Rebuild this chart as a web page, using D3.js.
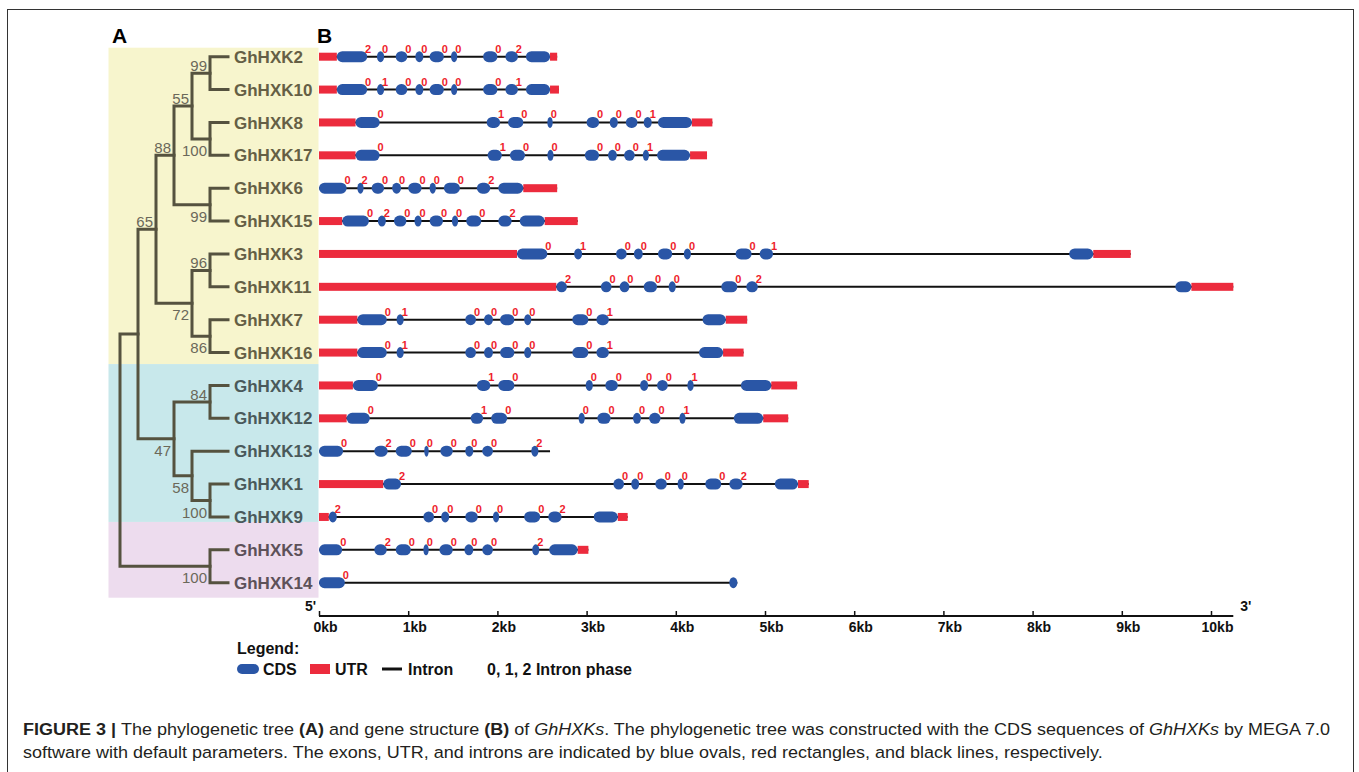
<!DOCTYPE html>
<html>
<head>
<meta charset="UTF-8">
<title>GhHXK tree and gene structure</title>
<style>
  body { margin: 0; background: white; }
  svg { display: block; background: white; font-family: "Liberation Sans", Arial, sans-serif; }
  .leaf { font-size: 17px; font-weight: bold; }
  .boot { font-size: 15px; fill: #6b685a; }
  .phase { font-size: 11px; font-weight: bold; fill: #ee1d2b; }
  .axis text { font-size: 14px; font-weight: bold; }
  .legend text { font-size: 16px; font-weight: bold; }
  .caption { font-size: 17px; fill: #231f20; }
</style>
<script src="https://cdnjs.cloudflare.com/ajax/libs/d3/7.8.5/d3.min.js"></script>
</head>
<body>
<div id="fig"></div>
<script>
// ---- data ----
const treeNewick = "((((((GhHXK2,GhHXK10)99,(GhHXK8,GhHXK17)100)55,(GhHXK6,GhHXK15)99)88,((GhHXK3,GhHXK11)96,(GhHXK7,GhHXK16)86)72)65,((GhHXK4,GhHXK12)84,(GhHXK13,(GhHXK1,GhHXK9)100)58)47),(GhHXK5,GhHXK14)100)";

const genes = ["GhHXK2","GhHXK10","GhHXK8","GhHXK17","GhHXK6","GhHXK15","GhHXK3","GhHXK11",
  "GhHXK7","GhHXK16","GhHXK4","GhHXK12","GhHXK13","GhHXK1","GhHXK9","GhHXK5","GhHXK14"];

const cladeSizes = [10, 5, 2];   // yellow, cyan, pink groups (gene order)

// gene length in kb
const geneLen = [2.67, 2.69, 4.41, 4.35, 2.67, 2.90, 9.10, 10.25, 4.80, 4.76, 5.36, 5.26, 2.59, 5.49, 3.46, 3.02, 4.69];

// UTR segments (kb)
const utrs = [
  [[0,0.20],[2.59,2.67]],
  [[0,0.20],[2.59,2.69]],
  [[0,0.41],[4.18,4.41]],
  [[0,0.41],[4.16,4.35]],
  [[2.29,2.67]],
  [[0,0.26],[2.53,2.90]],
  [[0,2.22],[8.68,9.10]],
  [[0,2.66],[9.78,10.25]],
  [[0,0.43],[4.56,4.80]],
  [[0,0.43],[4.53,4.76]],
  [[0,0.38],[5.07,5.36]],
  [[0,0.31],[4.98,5.26]],
  [],
  [[0,0.72],[5.37,5.49]],
  [[0,0.11],[3.35,3.46]],
  [[2.90,3.02]],
  []
];

// CDS exons (kb)
const exons = [
  [[0.20,0.54],[0.65,0.73],[0.86,0.99],[1.08,1.17],[1.24,1.40],[1.48,1.55],[1.84,2.00],[2.09,2.23],[2.32,2.59]],
  [[0.20,0.54],[0.65,0.73],[0.86,0.99],[1.08,1.17],[1.24,1.40],[1.48,1.55],[1.84,2.00],[2.09,2.23],[2.32,2.59]],
  [[0.41,0.68],[1.88,2.03],[2.12,2.29],[2.56,2.62],[3.00,3.14],[3.26,3.35],[3.44,3.57],[3.64,3.73],[3.80,4.18]],
  [[0.41,0.68],[1.89,2.05],[2.14,2.31],[2.56,2.63],[2.98,3.14],[3.24,3.34],[3.42,3.54],[3.63,3.70],[3.79,4.16]],
  [[0,0.31],[0.43,0.50],[0.59,0.73],[0.82,0.92],[1.00,1.15],[1.24,1.31],[1.40,1.58],[1.77,1.92],[2.01,2.29]],
  [[0.26,0.56],[0.66,0.75],[0.84,0.98],[1.07,1.15],[1.24,1.39],[1.49,1.56],[1.65,1.82],[2.01,2.16],[2.25,2.53]],
  [[2.22,2.56],[2.86,2.95],[3.33,3.45],[3.53,3.63],[3.80,3.96],[4.09,4.17],[4.67,4.85],[4.94,5.09],[8.41,8.68]],
  [[2.66,2.78],[3.16,3.28],[3.37,3.48],[3.64,3.79],[3.92,4.00],[4.51,4.69],[4.79,4.92],[9.60,9.78]],
  [[0.43,0.76],[0.87,0.95],[1.64,1.76],[1.85,1.95],[2.03,2.19],[2.30,2.38],[2.84,3.02],[3.11,3.25],[4.30,4.56]],
  [[0.43,0.76],[0.87,0.95],[1.64,1.76],[1.85,1.95],[2.03,2.19],[2.30,2.38],[2.84,3.02],[3.11,3.25],[4.26,4.53]],
  [[0.38,0.66],[1.77,1.92],[2.01,2.19],[2.99,3.07],[3.21,3.35],[3.60,3.69],[3.79,3.91],[4.13,4.20],[4.73,5.07]],
  [[0.31,0.57],[1.70,1.84],[1.93,2.11],[2.91,2.98],[3.12,3.27],[3.52,3.61],[3.70,3.83],[4.04,4.11],[4.65,4.98]],
  [[0,0.27],[0.62,0.77],[0.86,1.04],[1.18,1.23],[1.36,1.50],[1.64,1.73],[1.83,1.95],[2.38,2.46]],
  [[0.72,0.92],[3.30,3.42],[3.50,3.59],[3.77,3.90],[4.02,4.09],[4.33,4.51],[4.60,4.75],[5.11,5.37]],
  [[0.11,0.20],[1.17,1.29],[1.37,1.46],[1.64,1.78],[1.95,2.02],[2.30,2.48],[2.57,2.72],[3.08,3.35]],
  [[0,0.26],[0.62,0.76],[0.86,1.03],[1.17,1.23],[1.35,1.50],[1.63,1.73],[1.83,1.95],[2.39,2.47],[2.58,2.90]],
  [[0,0.29],[4.60,4.69]]
];

// intron phase written after each exon (same order as exons)
const phases = [
  [2,0,0,0,0,0,0,2],
  [0,1,0,0,0,0,0,1],
  [0,1,0,0,0,0,0,1],
  [0,1,0,0,0,0,0,1],
  [0,2,0,0,0,0,0,2],
  [0,2,0,0,0,0,0,2],
  [0,1,0,0,0,0,0,1],
  [2,0,0,0,0,0,2],
  [0,1,0,0,0,0,0,1],
  [0,1,0,0,0,0,0,1],
  [0,1,0,0,0,0,0,1],
  [0,1,0,0,0,0,0,1],
  [0,2,0,0,0,0,0,2],
  [2,0,0,0,0,0,2],
  [2,0,0,0,0,0,2],
  [0,2,0,0,0,0,0,2],
  [0]
];

const axisTicks = [0,1,2,3,4,5,6,7,8,9,10];

// ---- styles ----
const cladeFill = ["#f7f5cd", "#c8e8eb", "#eddcee"];
const cladeText = ["#655f45", "#4a595a", "#5d5159"];
const treeLine = "#55523f";
const exonCol = "#2a56a6";
const utrCol = "#ec2b3d";

// ---- setup ----
const W = 1359, H = 772;
const svg = d3.select("#fig").append("svg").attr("width", W).attr("height", H);

// figure frame
svg.append("rect").attr("x", 7.5).attr("y", 9.5).attr("width", 1346).attr("height", 800)
  .attr("fill", "none").attr("stroke", "#333").attr("stroke-width", 1);

const y = d3.scalePoint().domain(genes).range([56.7, 582.7]);
const x = d3.scaleLinear().domain([0, 10]).range([319, 1211]);

// ---- panel A: clade backgrounds ----
let start = 0;
const edges = [y(genes[0]) - 9];
cladeSizes.forEach((n, i) => {
  const last = genes[start + n - 1];
  edges.push(i === 0 ? y(last) + 11.5 : i === 1 ? y(last) + 5 : y(last) + 15);
  start += n;
});
svg.append("g").selectAll("rect").data(cladeSizes).join("rect")
  .attr("x", 108.5).attr("width", 210)
  .attr("y", (d, i) => edges[i]).attr("height", (d, i) => edges[i + 1] - edges[i])
  .attr("fill", (d, i) => cladeFill[i]);

// parse newick
function parseNewick(s) {
  let i = 0;
  function node() {
    const n = {};
    if (s[i] === "(") {
      i++;
      n.children = [node()];
      while (s[i] === ",") { i++; n.children.push(node()); }
      i++;
    }
    let lab = "";
    while (i < s.length && !",();".includes(s[i])) lab += s[i++];
    if (n.children) n.support = lab; else n.name = lab;
    return n;
  }
  return node();
}

const root = d3.hierarchy(parseNewick(treeNewick));
const tx = d3.scaleLinear().domain([0, root.height]).range([228, 120]);
root.eachAfter(d => {
  d.px = tx(d.height);
  d.py = d.children ? (d.children[0].py + d.children[d.children.length - 1].py) / 2 : y(d.data.name);
});

const cladeOf = name => {
  const idx = genes.indexOf(name);
  return idx < cladeSizes[0] ? 0 : idx < cladeSizes[0] + cladeSizes[1] ? 1 : 2;
};

const tree = svg.append("g");
tree.selectAll("path.branch")
  .data(root.descendants().filter(d => d.children))
  .join("path")
  .attr("class", "branch")
  .attr("fill", "none").attr("stroke", treeLine).attr("stroke-width", 3)
  .attr("stroke-linecap", "square").attr("stroke-linejoin", "miter")
  .attr("d", d => {
    const a = d.children[0], b = d.children[d.children.length - 1];
    return `M${a.px},${a.py}H${d.px}V${b.py}H${b.px}`;
  });

tree.selectAll("text.leaf")
  .data(root.leaves())
  .join("text")
  .attr("class", "leaf")
  .attr("x", 234).attr("y", d => d.py).attr("dy", "0.36em")
  .attr("fill", d => cladeText[cladeOf(d.data.name)])
  .text(d => d.data.name);

tree.selectAll("text.boot")
  .data(root.descendants().filter(d => d.parent && d.data.support))
  .join("text")
  .attr("class", "boot")
  .attr("text-anchor", "end")
  .attr("x", d => d.px - 3)
  .attr("y", d => d.parent.children[0] === d ? d.py - 2 : d.py + 17)
  .text(d => d.data.support);

// ---- panel B: gene structures ----
const rows = svg.append("g").selectAll("g.gene")
  .data(genes.map((g, i) => ({ g, i })))
  .join("g")
  .attr("transform", d => `translate(0,${y(d.g)})`);

rows.append("line")
  .attr("x1", x(0)).attr("x2", d => x(geneLen[d.i]))
  .attr("stroke", "#111").attr("stroke-width", 2);

rows.selectAll("rect.utr")
  .data(d => utrs[d.i])
  .join("rect")
  .attr("class", "utr")
  .attr("x", d => x(d[0])).attr("width", d => x(d[1]) - x(d[0]))
  .attr("y", -4).attr("height", 8)
  .attr("fill", utrCol);

rows.selectAll("rect.exon")
  .data(d => exons[d.i])
  .join("rect")
  .attr("class", "exon")
  .attr("x", d => x(d[0])).attr("width", d => x(d[1]) - x(d[0]))
  .attr("y", -5.5).attr("height", 11)
  .attr("rx", d => Math.min(5.5, (x(d[1]) - x(d[0])) / 2)).attr("ry", 5.5)
  .attr("fill", exonCol);

rows.selectAll("text.phase")
  .data(d => phases[d.i].map((p, k) => ({ p, end: exons[d.i][k][1] })))
  .join("text")
  .attr("class", "phase")
  .attr("text-anchor", "middle")
  .attr("x", d => x(d.end) + 1).attr("y", -4)
  .text(d => d.p);

// ---- axis ----
const axisY = 616;
const ax = svg.append("g").attr("class", "axis").attr("transform", `translate(0,${axisY})`)
  .call(d3.axisBottom(x).tickValues(axisTicks).tickFormat(d => d + "kb")
    .tickSizeInner(-5).tickSizeOuter(0).tickPadding(6));
ax.select(".domain").remove();
ax.selectAll(".tick line").attr("stroke", "#111").attr("stroke-width", 1.5);
ax.selectAll(".tick text").attr("fill", "#111").attr("dx", 6);
ax.append("line").attr("x1", x(0)).attr("x2", x(10.25))
  .attr("stroke", "#111").attr("stroke-width", 2);
ax.append("text").attr("x", x(0) - 3).attr("y", -5).attr("text-anchor", "end").attr("fill", "#111").text("5'");
ax.append("text").attr("x", x(10.25) + 7).attr("y", -5).attr("text-anchor", "start").attr("fill", "#111").text("3'");

// ---- panel letters ----
svg.append("text").attr("x", 112).attr("y", 43).attr("font-size", 21).attr("font-weight", "bold").text("A");
svg.append("text").attr("x", 317).attr("y", 43).attr("font-size", 21).attr("font-weight", "bold").text("B");

// ---- legend ----
const lg = svg.append("g").attr("class", "legend").attr("fill", "#111");
lg.append("text").attr("x", 237).attr("y", 654).text("Legend:");
const ly = 669;
lg.append("rect").attr("x", 237).attr("y", ly - 5).attr("width", 22).attr("height", 10)
  .attr("rx", 5).attr("fill", exonCol);
lg.append("text").attr("x", 263).attr("y", ly + 6).text("CDS");
lg.append("rect").attr("x", 310).attr("y", ly - 5).attr("width", 20).attr("height", 10).attr("fill", utrCol);
lg.append("text").attr("x", 335).attr("y", ly + 6).text("UTR");
lg.append("line").attr("x1", 382).attr("x2", 402).attr("y1", ly).attr("y2", ly)
  .attr("stroke", "#111").attr("stroke-width", 3);
lg.append("text").attr("x", 408).attr("y", ly + 6).text("Intron");
lg.append("text").attr("x", 487).attr("y", ly + 6).text("0, 1, 2 Intron phase");

// ---- caption ----
const cap1 = [
  ["FIGURE 3 | ", "b"], ["The phylogenetic tree ", ""], ["(A)", "b"], [" and gene structure ", ""],
  ["(B)", "b"], [" of ", ""], ["GhHXKs", "i"],
  [". The phylogenetic tree was constructed with the CDS sequences of ", ""], ["GhHXKs", "i"],
  [" by MEGA 7.0", ""]
];
const cap2 = [["software with default parameters. The exons, UTR, and introns are indicated by blue ovals, red rectangles, and black lines, respectively.", ""]];

function capLine(parts, yy) {
  const t = svg.append("text").attr("class", "caption").attr("x", 0).attr("y", 0);
  parts.forEach(([s, f]) => {
    t.append("tspan").text(s)
      .attr("font-weight", f === "b" ? "bold" : null)
      .attr("font-style", f === "i" ? "italic" : null);
  });
  return t.attr("data-y", yy);
}
const c1 = capLine(cap1, 735), c2 = capLine(cap2, 758);
const sx = 1308 / c1.node().getComputedTextLength();
[c1, c2].forEach(c => c.attr("transform", `translate(23,${c.attr("data-y")}) scale(${sx},1)`));
</script>
</body>
</html>
